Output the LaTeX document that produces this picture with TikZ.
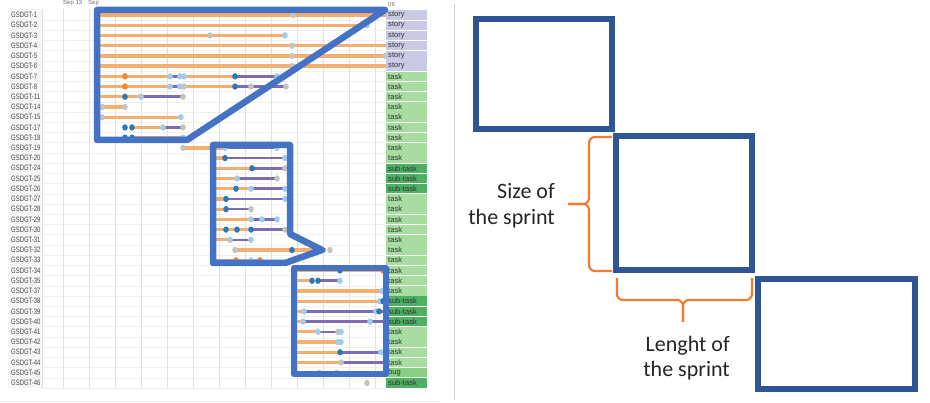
\documentclass[tikz,border=0pt]{standalone}
\usepackage{fontspec}
\setmainfont{Carlito}
\newfontfamily\lblfont{Liberation Sans}
\definecolor{sblue}{HTML}{4472C4}
\definecolor{bblue}{HTML}{2F5597}
\definecolor{brorange}{HTML}{ED7D31}
\definecolor{obarc}{HTML}{F6AE6E}
\definecolor{pbarc}{HTML}{7E6BB5}
\definecolor{dkb}{HTML}{2E78B8}
\definecolor{ltb}{HTML}{A2CDEA}
\definecolor{gry}{HTML}{C4C4C4}
\definecolor{ord}{HTML}{F0892E}
\definecolor{storyc}{HTML}{C9CAE8}
\definecolor{taskc}{HTML}{A8DDA2}
\definecolor{subc}{HTML}{4DB063}
\definecolor{bugc}{HTML}{86CF80}
\definecolor{gridc}{HTML}{E2E2E2}
\definecolor{txtc}{HTML}{262626}
\newcommand\gbar[4]{\draw[#4] (#2,{15+10.22*#1}) -- (#3,{15+10.22*#1});}
\newcommand\gdot[3]{\fill[#3] (#2,{15+10.22*#1}) ellipse [x radius=2.8pt, y radius=3.2pt];}
\tikzset{
  ob/.style={obarc, line width=3.3pt},
  pb/.style={pbarc, line width=2.6pt},
  shapeline/.style={sblue, line width=6.5pt, line join=round},
  sbox/.style={draw=bblue, line width=6pt, inner sep=0pt, outer sep=0pt},
  brace/.style={brorange, line width=2.2pt, rounded corners=6pt},
  lbl/.style={font=\lblfont\fontsize{7.8}{7.8}\selectfont, text=black!72, inner sep=0pt},
  typ/.style={font=\lblfont\fontsize{7.6}{7.6}\selectfont, text=black!80, inner sep=0pt, anchor=west},
  big/.style={font=\fontsize{22}{26}\selectfont, text=txtc, inner sep=0pt}
}
\begin{document}
\begin{tikzpicture}[x=1pt,y=-1pt]
\useasboundingbox (0,0) rectangle (930,403);
\fill[white] (0,0) rectangle (930,403);
% label column and chart background
\fill[black!3] (8,9) rectangle (42,388);
% row separators
\foreach \i in {0,...,36} {
  \draw[black!6, line width=0.6pt] (42,{15+10.22*\i+5.11}) -- (385,{15+10.22*\i+5.11});
}
% vertical grid lines
\draw[gridc, line width=1pt] (42,9) -- (42,388);
\foreach \gx in {63,89,115,141,167,193,219,245,271,297,323,349,375} {
  \draw[gridc, line width=1pt] (\gx,9) -- (\gx,388);
}
\draw[black!7, line width=0.8pt] (0,401) -- (440,401);
% header
\node[anchor=west, font=\lblfont\fontsize{6}{6}\selectfont, text=black!55, inner sep=0pt] (h1) at (63,3.5) {Sep 13};
\node[anchor=west, font=\lblfont\fontsize{6}{6}\selectfont, text=black!55, inner sep=0pt] (h2) at (88,3.5) {Sep};
\node[anchor=west, font=\lblfont\fontsize{6}{6}\selectfont, text=black!55, inner sep=0pt] (h3) at (388,4.5) {06};
% labels and types
\foreach \n/\c/\tx [count=\i from 0] in {1/storyc/story,2/storyc/story,3/storyc/story,4/storyc/story,5/storyc/story,6/storyc/story,7/taskc/task,8/taskc/task,11/taskc/task,14/taskc/task,15/taskc/task,17/taskc/task,18/taskc/task,19/taskc/task,20/taskc/task,24/subc/sub-task,25/subc/sub-task,26/subc/sub-task,27/taskc/task,28/taskc/task,29/taskc/task,30/taskc/task,31/taskc/task,32/taskc/task,33/taskc/task,34/taskc/task,35/taskc/task,37/taskc/task,38/subc/sub-task,39/subc/sub-task,40/subc/sub-task,41/taskc/task,42/taskc/task,43/taskc/task,44/taskc/task,45/bugc/bug,46/subc/sub-task} {
  \pgfmathsetmacro\yy{15+10.22*\i}
  \node[lbl, anchor=west] (l\i) at (11,\yy) {\scalebox{0.76}[1]{GSDGT-\n}};
  \fill[\c] (386,\yy-4.7) rectangle (427,\yy+4.7);
  \node[typ] (t\i) at (388,\yy) {\tx};
}
% bars
\gbar{0}{97}{386}{ob} \gdot{0}{293}{gry}
\gbar{1}{97}{367}{ob} \gdot{1}{367}{ltb}
\gbar{2}{97}{285}{ob} \gdot{2}{210}{gry} \gdot{2}{285}{ltb}
\gbar{3}{97}{386}{ob} \gdot{3}{292}{gry}
\gbar{4}{97}{386}{ob} \gdot{4}{292}{gry} \gdot{4}{385}{gry}
\gbar{5}{97}{386}{ob} \gdot{5}{292}{gry}
\gbar{6}{97}{170}{ob} \gbar{6}{170}{183}{pb} \gbar{6}{183}{235}{ob} \gbar{6}{235}{277}{pb}
\gdot{6}{125}{ord} \gdot{6}{170}{ltb} \gdot{6}{180}{ltb} \gdot{6}{184}{ltb} \gdot{6}{235}{dkb} \gdot{6}{277}{ltb}
\gbar{7}{97}{170}{ob} \gbar{7}{170}{183}{pb} \gbar{7}{183}{235}{ob} \gbar{7}{235}{286}{pb}
\gdot{7}{125}{ord} \gdot{7}{170}{ltb} \gdot{7}{180}{ltb} \gdot{7}{184}{gry} \gdot{7}{235}{dkb} \gdot{7}{251}{gry} \gdot{7}{286}{gry}
\gbar{8}{97}{141}{ob} \gbar{8}{141}{183}{pb} \gdot{8}{125}{dkb} \gdot{8}{141}{ltb} \gdot{8}{183}{gry}
\gbar{9}{102}{125}{ob} \gdot{9}{102}{gry} \gdot{9}{125}{gry}
\gbar{10}{102}{181}{ob} \gdot{10}{102}{gry} \gdot{10}{181}{ltb}
\gbar{11}{132}{163}{ob} \gbar{11}{163}{183}{pb} \gdot{11}{125}{dkb} \gdot{11}{132}{dkb} \gdot{11}{163}{ltb} \gdot{11}{183}{gry}
\gbar{12}{132}{183}{ob} \gdot{12}{125}{dkb} \gdot{12}{132}{dkb} \gdot{12}{183}{ltb}
\gbar{13}{183}{225}{ob} \gbar{13}{225}{277}{pb} \gdot{13}{183}{gry} \gdot{13}{225}{ltb} \gdot{13}{277}{ltb}
\gbar{14}{212}{225}{ob} \gbar{14}{225}{285}{pb} \gdot{14}{225}{dkb} \gdot{14}{285}{ltb}
\gbar{15}{212}{252}{ob} \gbar{15}{252}{285}{pb} \gdot{15}{252}{dkb} \gdot{15}{285}{gry}
\gbar{16}{212}{237}{ob} \gbar{16}{237}{277}{pb} \gdot{16}{237}{ltb} \gdot{16}{277}{gry}
\gbar{17}{212}{251}{ob} \gbar{17}{251}{285}{pb} \gdot{17}{236}{dkb} \gdot{17}{251}{ltb} \gdot{17}{285}{ltb}
\gbar{18}{212}{226}{ob} \gbar{18}{226}{285}{pb} \gdot{18}{226}{dkb} \gdot{18}{285}{ltb}
\gbar{19}{212}{226}{ob} \gbar{19}{226}{251}{pb} \gdot{19}{226}{dkb} \gdot{19}{251}{gry}
\gbar{20}{212}{251}{ob} \gbar{20}{251}{277}{pb} \gdot{20}{251}{ltb} \gdot{20}{262}{ltb} \gdot{20}{277}{ltb}
\gbar{21}{212}{251}{ob} \gbar{21}{251}{285}{pb} \gdot{21}{226}{dkb} \gdot{21}{237}{dkb} \gdot{21}{251}{dkb} \gdot{21}{285}{gry}
\gbar{22}{212}{230}{ob} \gbar{22}{230}{251}{pb} \gdot{22}{230}{ltb} \gdot{22}{251}{ltb}
\gbar{23}{235}{326}{ob} \gdot{23}{235}{gry} \gdot{23}{292}{dkb} \gdot{23}{330}{gry}
\gbar{24}{212}{262}{ob} \gdot{24}{236}{ord} \gdot{24}{251}{ltb} \gdot{24}{260}{ord}
\gbar{25}{293}{384}{ob} \gdot{25}{340}{dkb} \gdot{25}{383}{ord}
\gbar{26}{293}{312}{ob} \gbar{26}{318}{340}{pb} \gdot{26}{312}{dkb} \gdot{26}{318}{dkb} \gdot{26}{340}{ltb}
\gbar{27}{293}{382}{ob} \gdot{27}{382}{ltb}
\gbar{28}{293}{381}{ob} \gdot{28}{380}{ltb} \gdot{28}{383}{dkb}
\gbar{29}{293}{304}{ob} \gbar{29}{304}{387}{pb} \gdot{29}{304}{ltb} \gdot{29}{376}{ltb} \gdot{29}{379}{dkb}
\gbar{30}{293}{303}{ob} \gbar{30}{303}{387}{pb} \gdot{30}{303}{ltb} \gdot{30}{370}{ltb}
\gbar{31}{293}{318}{ob} \gbar{31}{318}{339}{pb} \gdot{31}{318}{ltb} \gdot{31}{338}{gry} \gdot{31}{341}{ltb!70!gry}
\gbar{32}{293}{338}{ob} \gdot{32}{338}{ltb} \gdot{32}{341}{ltb}
\gbar{33}{293}{340}{ob} \gbar{33}{340}{381}{pb} \gdot{33}{340}{dkb} \gdot{33}{381}{ltb}
\gbar{34}{293}{341}{ob} \gbar{34}{341}{387}{pb} \gdot{34}{341}{gry}
\gbar{35}{319}{337}{pb} \gdot{35}{319}{gry} \gdot{35}{337}{gry}
\gdot{36}{367}{gry}
% blue highlight shapes
\draw[shapeline] (97,10) -- (385,10) -- (187,140) -- (97,140) -- cycle;
\draw[shapeline] (213,145) -- (290,145) -- (290,234) -- (322,250) -- (285,263) -- (213,263) -- cycle;
\draw[shapeline] (294,268) rectangle (386,374);
% separator
\draw[black!18, line width=1pt] (454,4) -- (454,400);
% right side boxes
\node[sbox, minimum width=136pt, minimum height=110pt] (b1) at (544,74) {};
\node[sbox, minimum width=136pt, minimum height=134pt] (b2) at (684,203) {};
\node[sbox, minimum width=157pt, minimum height=110pt] (b3) at (836.5,334) {};
% braces
\coordinate (vtip) at (568,204);
\coordinate (htip) at (683,322);
\draw[brace] (612,137) -- (589,137) -- (589,204) -- (vtip);
\draw[brace] (612,271) -- (589,271) -- (589,204) -- (vtip);
\draw[brace] (617,278) -- (617,300) -- (683,300) -- (htip);
\draw[brace] (752,278) -- (752,300) -- (683,300) -- (htip);
% texts
\node[big, anchor=base east] (s1) at (555,199) {Size of};
\node[big, anchor=base east] (s2) at (555,225) {the sprint};
\node[big, anchor=base east] (g1) at (730,352) {Lenght of};
\node[big, anchor=base east] (g2) at (730,377) {the sprint};
\end{tikzpicture}
\end{document}
